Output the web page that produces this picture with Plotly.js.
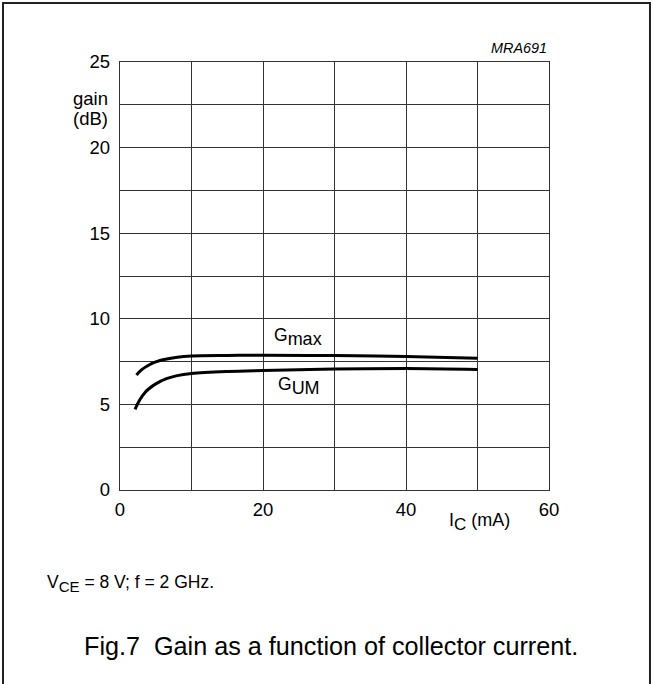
<!DOCTYPE html>
<html>
<head>
<meta charset="utf-8">
<script src="https://cdn.plot.ly/plotly-3.0.1.min.js"></script>
<style>html,body{margin:0;padding:0;background:#fff;}#chart{width:653px;height:684px;}</style>
</head>
<body>
<div id="chart"></div>
<script>
// Collector current (mA) and gain (dB)
const gmaxCurrent = [2.3, 3, 4, 5, 6, 8, 10, 15, 20, 30, 40, 50];
const gmaxGain    = [6.72, 7.02, 7.29, 7.48, 7.61, 7.76, 7.83, 7.86, 7.87, 7.85, 7.80, 7.70];
const gumCurrent  = [2.1, 2.75, 3.5, 4, 5, 6.5, 8, 10, 15, 20, 30, 40, 50];
const gumGain     = [4.71, 5.26, 5.70, 5.90, 6.20, 6.50, 6.68, 6.80, 6.92, 6.98, 7.07, 7.09, 7.04];
const xTickVals = [0, 20, 40, 60];
const yTickVals = [0, 5, 10, 15, 20, 25];

const font = "Liberation Sans, Arial, sans-serif";
const lineStyle = {color: '#000', width: 3, shape: 'spline', smoothing: 1};

const traces = [
  {x: gmaxCurrent, y: gmaxGain, mode: 'lines', line: lineStyle, name: 'Gmax', hoverinfo: 'skip'},
  {x: gumCurrent, y: gumGain, mode: 'lines', line: lineStyle, name: 'GUM', hoverinfo: 'skip'}
];

const axisCommon = {
  showline: true, linecolor: '#333', linewidth: 1.3, mirror: true,
  showgrid: true, gridcolor: '#333', gridwidth: 1,
  zeroline: false, ticks: '', fixedrange: true,
  tickfont: {family: font, size: 18.5, color: '#000'}
};

function sub(t, px) { return '<sub><span style="font-size:' + px + 'px">' + t + '</span></sub>'; }

const layout = {
  width: 653, height: 684,
  margin: {l: 120, r: 104, t: 62, b: 194, pad: 0},
  paper_bgcolor: '#fff', plot_bgcolor: '#fff',
  showlegend: false,
  xaxis: Object.assign({}, axisCommon, {
    range: [0, 60], tickmode: 'array', tickvals: xTickVals, ticktext: xTickVals.map(String),
    ticklabelstandoff: 2,
    minor: {tickmode: 'linear', tick0: 0, dtick: 10, showgrid: true, gridcolor: '#333', gridwidth: 1, ticks: ''}
  }),
  yaxis: Object.assign({}, axisCommon, {
    range: [0, 25], tickmode: 'array', tickvals: yTickVals, ticktext: yTickVals.map(String),
    ticklabelstandoff: 5,
    minor: {tickmode: 'linear', tick0: 0, dtick: 2.5, showgrid: true, gridcolor: '#333', gridwidth: 1, ticks: ''}
  }),
  shapes: [
    {type: 'rect', xref: 'paper', yref: 'paper', x0: -0.2727, x1: 1.2354, y0: -0.48, y1: 1.1379,
     line: {color: '#222', width: 2}, layer: 'above'}
  ],
  annotations: [
    {text: 'gain', xref: 'paper', yref: 'paper', x: -0.024, y: 0.9136, xanchor: 'right', yanchor: 'middle', showarrow: false, font: {family: font, size: 18.5, color: '#000'}},
    {text: '(dB)', xref: 'paper', yref: 'paper', x: -0.024, y: 0.868, xanchor: 'right', yanchor: 'middle', showarrow: false, font: {family: font, size: 18.5, color: '#000'}},
    {text: 'I' + sub('C', 17) + ' (mA)', xref: 'paper', yref: 'paper', x: 0.762, y: -0.074, xanchor: 'left', yanchor: 'middle', showarrow: false, font: {family: font, size: 18, color: '#000'}},
    {text: 'G' + sub('max', 18), xref: 'x', yref: 'y', x: 24.9, y: 8.95, xanchor: 'center', yanchor: 'middle', showarrow: false, font: {family: font, size: 17.5, color: '#000'}},
    {text: 'G' + sub('UM', 18), xref: 'x', yref: 'y', x: 25.1, y: 6.05, xanchor: 'center', yanchor: 'middle', showarrow: false, font: {family: font, size: 17.5, color: '#000'}},
    {text: '<i>MRA691</i>', xref: 'paper', yref: 'paper', x: 1.0, y: 1.033, xanchor: 'right', yanchor: 'middle', showarrow: false, font: {family: font, size: 14.4, color: '#000'}},
    {text: 'V' + sub('CE', 15) + ' = 8 V; f = 2 GHz.', xref: 'paper', yref: 'paper', x: -0.1748, y: -0.2196, xanchor: 'left', yanchor: 'middle', showarrow: false, font: {family: font, size: 17.5, color: '#000'}},
    {text: 'Fig.7  Gain as a function of collector current.', xref: 'paper', yref: 'paper', x: 0.4925, y: -0.364, xanchor: 'center', yanchor: 'middle', showarrow: false, font: {family: font, size: 25.2, color: '#000'}}
  ]
};

Plotly.newPlot('chart', traces, layout, {staticPlot: true, displayModeBar: false});
</script>
</body>
</html>
